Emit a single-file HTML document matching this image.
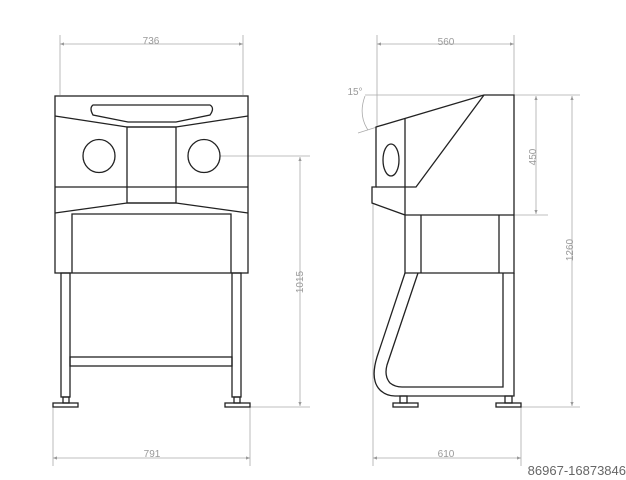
<!DOCTYPE html>
<html><head><style>body{margin:0;background:#fff}svg{display:block}</style></head><body>
<svg width="626" height="480" viewBox="0 0 626 480" xmlns="http://www.w3.org/2000/svg" font-family="Liberation Sans, sans-serif">
<defs>
<marker id="a" markerWidth="6" markerHeight="6" refX="5" refY="3" orient="auto-start-reverse"><path d="M0,1 L5,3 L0,5z" fill="#999"/></marker>
</defs>
<g stroke="#aaa" stroke-width="0.8" fill="none">
<line x1="60" y1="35" x2="60" y2="95"/><line x1="243" y1="35" x2="243" y2="95"/>
<line x1="60" y1="44" x2="243" y2="44" marker-start="url(#a)" marker-end="url(#a)"/>
<line x1="53" y1="407" x2="53" y2="466"/><line x1="250" y1="407" x2="250" y2="466"/>
<line x1="53" y1="458" x2="250" y2="458" marker-start="url(#a)" marker-end="url(#a)"/>
<line x1="220" y1="156" x2="310" y2="156"/><line x1="250" y1="407" x2="310" y2="407"/>
<line x1="300" y1="157" x2="300" y2="406" marker-start="url(#a)" marker-end="url(#a)"/>
<line x1="377" y1="35" x2="377" y2="127"/><line x1="514" y1="35" x2="514" y2="95"/>
<line x1="377" y1="44" x2="514" y2="44" marker-start="url(#a)" marker-end="url(#a)"/>
<line x1="373" y1="203" x2="373" y2="466"/><line x1="521" y1="407" x2="521" y2="466"/>
<line x1="373" y1="458" x2="521" y2="458" marker-start="url(#a)" marker-end="url(#a)"/>
<line x1="365" y1="95" x2="580" y2="95"/><line x1="514" y1="215" x2="548" y2="215"/><line x1="521" y1="407" x2="580" y2="407"/>
<line x1="536" y1="96" x2="536" y2="214" marker-start="url(#a)" marker-end="url(#a)"/>
<line x1="572" y1="96" x2="572" y2="406" marker-start="url(#a)" marker-end="url(#a)"/>
<line x1="358" y1="133" x2="377" y2="127"/>
<path d="M365,96 Q358,115 368,130"/>
</g>
<g fill="#999" font-size="10" text-anchor="middle">
<text x="151" y="44">736</text><text x="152" y="457">791</text>
<text x="446" y="45">560</text><text x="446" y="457">610</text>
<text x="355" y="95">15°</text>
<text transform="translate(303,282) rotate(-90)">1015</text>
<text transform="translate(536,157) rotate(-90)">450</text>
<text transform="translate(573,250) rotate(-90)">1260</text>
</g>
<g stroke="#222" stroke-width="1.3" fill="none">
<rect x="55" y="96" width="193" height="177"/>
<path d="M93,105 L210,105 Q215,108 210,115 L176,122 L128,122 L93,115 Q89,108 93,105z"/>
<path d="M55,116 L127,127 L176,127 L248,116"/>
<rect x="127" y="127" width="49" height="76"/>
<ellipse cx="99" cy="156" rx="16" ry="16.5"/>
<ellipse cx="204" cy="156" rx="16" ry="16.5"/>
<line x1="55" y1="187" x2="248" y2="187"/>
<path d="M55,213 L127,203 L176,203 L248,213"/>
<path d="M72,273 L72,214 L231,214 L231,273"/>
<rect x="61" y="273" width="9" height="124"/>
<rect x="232" y="273" width="9" height="124"/>
<rect x="70" y="357" width="162" height="9"/>
<rect x="63" y="397" width="6" height="6"/><rect x="53" y="403" width="25" height="4"/>
<rect x="234" y="397" width="6" height="6"/><rect x="225" y="403" width="25" height="4"/>
</g>
<g stroke="#222" stroke-width="1.3" fill="none">
<path d="M376,127 L484,95 L514,95 L514,273 L405,273 L405,215 L372,203 L372,187 L376,187 Z"/>
<line x1="405" y1="118" x2="405" y2="215"/>
<path d="M376,187 L416,187 L484,95"/>
<line x1="405" y1="215" x2="514" y2="215"/>
<ellipse cx="391" cy="160" rx="8" ry="16"/>
<line x1="421" y1="215" x2="421" y2="273"/><line x1="499" y1="215" x2="499" y2="273"/>
<path d="M405,273 L377,357 Q370,380 380,390 Q386,396 395,396 L514,396 L514,273"/>
<path d="M418,273 L387,365 Q384,376 390,383 Q395,387 402,387 L503,387 L503,273"/>
<rect x="400" y="396" width="7" height="7"/><rect x="393" y="403" width="25" height="4"/>
<rect x="505" y="396" width="7" height="7"/><rect x="496" y="403" width="25" height="4"/>
</g>
<text x="626" y="475" text-anchor="end" font-size="13" fill="#666">86967-16873846</text>
</svg>
</body></html>
